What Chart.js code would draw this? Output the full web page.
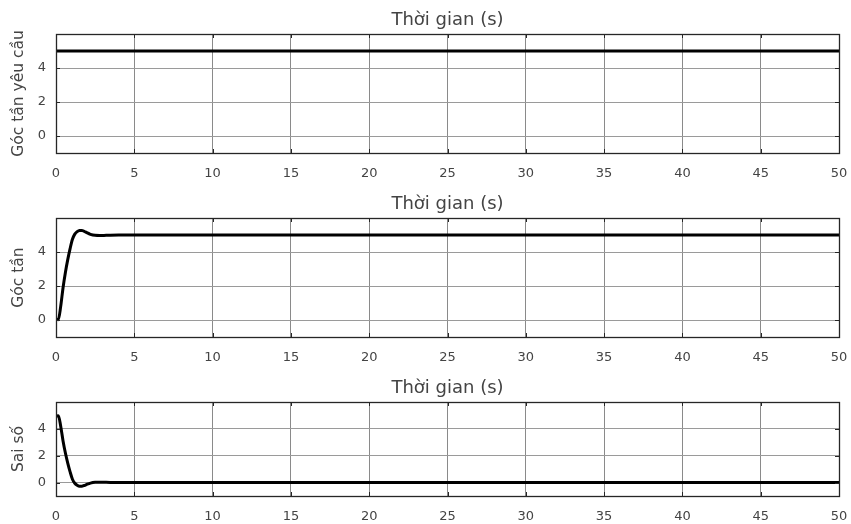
<!DOCTYPE html>
<html>
<head>
<meta charset="utf-8">
<script src="https://cdn.jsdelivr.net/npm/chart.js@4.4.1/dist/chart.umd.min.js"></script>
<style>
    html, body { margin: 0; padding: 0; background: #fff; }
    .panel { position: absolute; left: 0; width: 851px; }
</style>
</head>
<body>
<div class="panel" style="top:0px;height:180px"><canvas id="c1"></canvas></div>
<div class="panel" style="top:184px;height:180px"><canvas id="c2"></canvas></div>
<div class="panel" style="top:368px;height:155px"><canvas id="c3"></canvas></div>
<script>
// ── Data ──────────────────────────────────────────────
const titleText = 'Thời gian (s)';
const yLabels = ['Góc tần yêu cầu', 'Góc tần', 'Sai số'];
const xTicks = [0, 5, 10, 15, 20, 25, 30, 35, 40, 45, 50];
const yTicks = [0, 2, 4];

const setTime = [0, 50];
const setValue = [5, 5];

const time = [0, 0.15, 0.3, 0.45, 0.6, 0.75, 0.9, 1.05, 1.2, 1.35, 1.5, 1.65, 1.8, 2.0, 2.2, 2.5, 2.8, 3.2, 4, 50];
const angle = [0.05, 0.02, 0.8, 1.9, 2.8, 3.55, 4.2, 4.75, 5.05, 5.2, 5.27, 5.27, 5.22, 5.12, 5.04, 4.98, 4.97, 4.98, 5.0, 5.0];
const error = [4.95, 4.98, 4.2, 3.1, 2.2, 1.45, 0.8, 0.25, -0.05, -0.2, -0.27, -0.27, -0.22, -0.12, -0.04, 0.02, 0.03, 0.02, 0.0, 0.0];

// ── Style ─────────────────────────────────────────────
const font = "'DejaVu Sans', sans-serif";
const textColor = '#444';
const boxColor = '#262626';

// MATLAB-like box with inward ticks on all sides
const boxPlugin = {
    id: 'box',
    afterDraw(chart) {
        const { ctx, chartArea: a, scales } = chart;
        ctx.save();
        ctx.strokeStyle = boxColor;
        ctx.lineWidth = 1;
        ctx.beginPath();
        for (const v of xTicks) {
            const px = Math.round(scales.x.getPixelForValue(v)) + 0.5;
            ctx.moveTo(px, a.bottom); ctx.lineTo(px, a.bottom - 4);
            ctx.moveTo(px, a.top); ctx.lineTo(px, a.top + 4);
        }
        for (const v of yTicks) {
            const py = Math.round(scales.y.getPixelForValue(v)) + 0.5;
            ctx.moveTo(a.left, py); ctx.lineTo(a.left + 4, py);
            ctx.moveTo(a.right, py); ctx.lineTo(a.right - 4, py);
        }
        ctx.stroke();
        ctx.lineWidth = 1.3;
        ctx.strokeRect(Math.round(a.left) + 0.5, Math.round(a.top) + 0.5,
            Math.round(a.right - a.left), Math.round(a.bottom - a.top));
        ctx.restore();
    }
};

function noPad(s) {
    s.paddingLeft = 0;
    s.paddingRight = 0;
}

function makeChart(id, xs, ys, yLabel) {
    const points = xs.map((x, i) => ({ x: x, y: ys[i] }));
    return new Chart(document.getElementById(id), {
        type: 'line',
        data: {
            datasets: [{
                data: points,
                borderColor: '#000',
                borderWidth: 3,
                pointRadius: 0,
                cubicInterpolationMode: 'monotone',
            }]
        },
        options: {
            responsive: true,
            maintainAspectRatio: false,
            animation: false,
            layout: { padding: { left: 0, right: 12, top: 0, bottom: 0 } },
            plugins: {
                legend: { display: false },
                tooltip: { enabled: false },
            },
            scales: {
                x: {
                    type: 'linear',
                    min: 0, max: 50,
                    afterBuildTicks: (s) => { s.ticks = xTicks.map(v => ({ value: v })); },
                    afterFit: (s) => { s.height = 27; noPad(s); },
                    ticks: {
                        color: textColor,
                        font: { family: font, size: 13 },
                        padding: 13,
                        maxRotation: 0,
                    },
                    grid: { color: '#8a8a8a', drawTicks: false },
                    border: { display: false },
                },
                // top axis only carries the "title" text, centred over the plot
                xTop: {
                    type: 'linear',
                    position: 'top',
                    min: 0, max: 50,
                    afterFit: (s) => { s.height = 34; noPad(s); },
                    ticks: { display: false },
                    grid: { display: false, drawTicks: false },
                    border: { display: false },
                    title: {
                        display: true,
                        text: titleText,
                        color: textColor,
                        font: { family: font, size: 18 },
                        padding: { top: 10, bottom: 0 },
                    },
                },
                y: {
                    min: -1, max: 6,
                    afterBuildTicks: (s) => { s.ticks = yTicks.map(v => ({ value: v })); },
                    afterFit: (s) => { s.width = 56; },
                    ticks: {
                        color: textColor,
                        font: { family: font, size: 13 },
                        padding: 10,
                    },
                    grid: { color: '#9a9a9a', drawTicks: false },
                    border: { display: false },
                    title: {
                        display: true,
                        text: yLabel,
                        color: textColor,
                        font: { family: font, size: 15.5 },
                        padding: { top: 10, bottom: 0 },
                    },
                },
            },
        },
        plugins: [boxPlugin],
    });
}

makeChart('c1', setTime, setValue, yLabels[0]);
makeChart('c2', time, angle, yLabels[1]);
makeChart('c3', time, error, yLabels[2]);
</script>
</body>
</html>
